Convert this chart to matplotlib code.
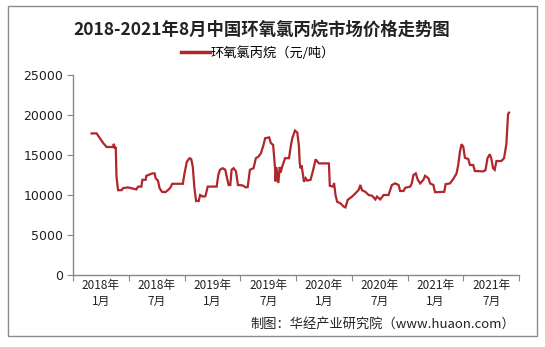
import matplotlib
matplotlib.use("Agg")
import matplotlib.pyplot as plt
from matplotlib.patches import Rectangle

plt.rcParams['font.family'] = ['Noto Sans CJK SC', 'DejaVu Sans']

title = "2018-2021年8月中国环氧氯丙烷市场价格走势图"
series_name = "环氧氯丙烷（元/吨）"
source = "制图：华经产业研究院（www.huaon.com）"
tick_labels = ["2018年\n1月", "2018年\n7月", "2019年\n1月", "2019年\n7月",
               "2020年\n1月", "2020年\n7月", "2021年\n1月", "2021年\n7月"]

# months elapsed since start of axis (2018-01)
months = [2.00, 2.54, 2.89, 3.25, 3.61, 4.32, 4.39, 4.50, 4.60, 4.68, 4.85, 5.22, 5.39, 5.92,
          6.30, 6.82, 7.00, 7.36, 7.47, 7.82, 7.90, 8.32, 8.54, 8.79, 8.89, 9.14, 9.32, 9.57,
          9.93, 10.21, 10.47, 10.68, 11.82, 12.00, 12.25, 12.54, 12.72, 12.89, 13.07, 13.25,
          13.53, 13.68, 13.96, 14.25, 14.50, 15.46, 15.64, 15.82, 16.10, 16.39, 16.58, 16.75,
          16.93, 17.07, 17.28, 17.54, 17.75, 18.25, 18.61, 18.80, 19.04, 19.43, 19.68, 19.96,
          20.22, 20.50, 20.68, 21.11, 21.29, 21.54, 21.75, 21.80, 21.89, 22.00, 22.10, 22.25,
          22.35, 22.50, 22.82, 23.25, 23.43, 23.60, 23.89, 24.14, 24.32, 24.40, 24.50, 24.60,
          24.86, 25.04, 25.21, 25.57, 25.85, 26.11, 26.46, 27.54, 27.64, 28.00, 28.10, 28.25,
          28.43, 28.79, 29.14, 29.32, 29.57, 30.03, 30.39, 30.75, 30.93, 31.10, 31.46, 31.82,
          32.20, 32.54, 32.71, 33.07, 33.43, 33.96, 34.32, 34.68, 35.04, 35.21, 35.57, 35.75,
          36.29, 36.46, 36.64, 36.89, 37.11, 37.36, 37.71, 37.89, 38.25, 38.43, 38.79, 38.96,
          39.96, 40.10, 40.57, 40.93, 41.28, 41.46, 41.64, 41.82, 42.00, 42.18, 42.54, 42.72,
          43.07, 43.25, 44.14, 44.39, 44.61, 44.86, 45.03, 45.21, 45.39, 45.57, 46.11, 46.39,
          46.64, 46.82, 46.93]
prices = [17700, 17700, 17100, 16500, 16000, 16000, 16400, 15800, 16000, 12300, 10600, 10600,
          10850, 10950, 10850, 10700, 11050, 11050, 11900, 11900, 12400, 12600, 12700, 12700,
          12100, 11800, 10850, 10400, 10350, 10600, 10900, 11400, 11400, 12700, 14150, 14600,
          14500, 13550, 10850, 9250, 9250, 10000, 9800, 9850, 11050, 11050, 12500, 13150, 13350,
          13150, 12100, 11250, 11250, 13150, 13350, 12950, 11250, 11200, 10950, 11000, 13150,
          13350, 14600, 14800, 15200, 16250, 17100, 17200, 16500, 16250, 13300, 11700, 13500,
          12500, 11500, 13500, 12800, 13500, 14600, 14600, 16050, 17100, 18050, 17800, 16050,
          14000, 13330, 13700, 11650, 12100, 11800, 11900, 13150, 14450, 13950, 13950, 11150,
          11050, 11500, 10000, 9150, 8950, 8550, 8450, 9400, 9800, 10200, 10650, 11250, 10600,
          10400, 10000, 9900, 9450, 9800, 9450, 10000, 10000, 11250, 11450, 11250, 10500, 10500,
          10900, 11050, 11450, 12500, 12700, 11900, 11450, 11900, 12400, 12100, 11450, 11250,
          10350, 10400, 11350, 11450, 12000, 12700, 13750, 15400, 16350, 16050, 14650, 14500,
          13750, 13750, 13000, 12950, 13100, 14600, 15100, 14500, 13350, 13150, 14250, 14250,
          14600, 16350, 20100, 20300]

W, H = 545, 347
fig = plt.figure(figsize=(W / 100, H / 100), dpi=100)
fig.patch.set_facecolor('white')

# outer border
fig.add_artist(Rectangle((8 / W, 1 - 336 / H), (537 - 8) / W, (336 - 6) / H,
                         transform=fig.transFigure, fill=False, edgecolor='#8c8c8c', lw=1.0))

ax = fig.add_axes([73 / W, 1 - 275 / H, (519 - 73) / W, (275 - 75) / H])
line, = ax.plot(months, prices, color='#B0262A', lw=1.6, solid_joinstyle='miter')

ax.set_xlim(0, 48)
ax.set_ylim(0, 25000)
ax.set_yticks(range(0, 25001, 5000))
ax.set_yticklabels([str(v) for v in range(0, 25001, 5000)], fontsize=9, color='#222222',
                   family=['DejaVu Sans'])
ax.set_xticks(range(0, 49, 6))
ax.set_xticklabels([])
ax.set_xticks([3 + 6 * i for i in range(8)], minor=True)
ax.set_xticklabels(tick_labels, minor=True, fontsize=8.5, color='#222222', linespacing=1.25)
ax.tick_params(axis='x', which='minor', length=0, pad=3)
ax.tick_params(axis='x', which='major', length=4, color='#888888', direction='out')
ax.tick_params(axis='y', length=4, color='#888888', direction='out', pad=3)
for s in ['top', 'right']:
    ax.spines[s].set_visible(False)
for s in ['left', 'bottom']:
    ax.spines[s].set_color('#888888')
    ax.spines[s].set_linewidth(1.0)

fig.text(262 / W, 1 - 30 / H, title, ha='center', va='center', fontsize=12.5,
         fontweight='bold', color='#222222')

leg = fig.legend([line], [series_name], loc='center', bbox_to_anchor=(258 / W, 1 - 53 / H),
                 frameon=False, fontsize=9.5, handlelength=2.2, handletextpad=0.1,
                 borderaxespad=0)
leg.get_lines()[0].set_linewidth(2.5)

fig.text(515 / W, 1 - 324 / H, source, ha='right', va='center', fontsize=9.5, color='#222222')

fig.savefig('out.png', dpi=100, facecolor='white')
